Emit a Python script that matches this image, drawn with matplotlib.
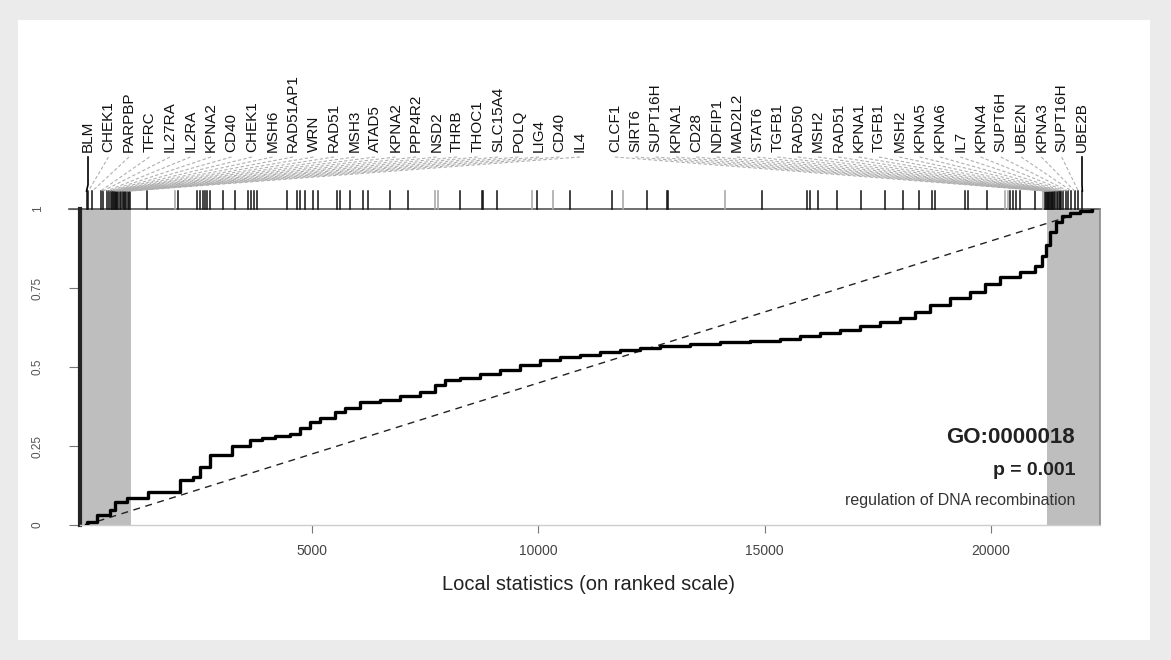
import matplotlib.pyplot as plt
import numpy as np
from matplotlib.patches import Rectangle
from matplotlib.lines import Line2D

plt.rcParams['font.family'] = ['Liberation Sans', 'DejaVu Sans']

# ---------------- data ----------------
n_genes = 22250
x_lo, x_hi = -125, 22410

# running fraction of set genes
curve_rank = [0, 29, 250, 537, 647, 912, 1266, 1377, 1907, 2084, 2371, 2525, 2747, 2968,
              3233, 3630, 3896, 4183, 4514, 4735, 4956, 5177, 5508, 5729, 6061, 6503,
              6944, 7386, 7718, 7939, 8270, 8712, 9154, 9596, 10038, 10480, 10921, 11363,
              11805, 12247, 12689, 13352, 14015, 14678, 15341, 15782, 16224, 16666,
              17108, 17550, 17992, 18324, 18655, 19097, 19539, 19870, 20202, 20644,
              20975, 21130, 21219, 21307, 21440, 21573, 21750, 21971, 22236]
curve_frac = [0, 0.009, 0.032, 0.047, 0.073, 0.085, 0.085, 0.104, 0.104, 0.142, 0.152,
              0.184, 0.222, 0.222, 0.250, 0.269, 0.275, 0.282, 0.288, 0.307, 0.326, 0.339,
              0.358, 0.370, 0.389, 0.396, 0.408, 0.421, 0.443, 0.459, 0.465, 0.478, 0.491,
              0.506, 0.522, 0.532, 0.538, 0.547, 0.554, 0.560, 0.566, 0.573, 0.579, 0.582,
              0.589, 0.598, 0.608, 0.617, 0.630, 0.642, 0.655, 0.674, 0.696, 0.718, 0.737,
              0.763, 0.785, 0.801, 0.820, 0.851, 0.886, 0.927, 0.959, 0.978, 0.987, 0.994,
              1.0]

# labelled genes at both ends (ranks) and their names
left_genes = ['BLM', 'CHEK1', 'PARPBP', 'TFRC', 'IL27RA', 'IL2RA', 'KPNA2', 'CD40',
              'CHEK1', 'MSH6', 'RAD51AP1', 'WRN', 'RAD51', 'MSH3', 'ATAD5', 'KPNA2',
              'PPP4R2', 'NSD2', 'THRB', 'THOC1', 'SLC15A4', 'POLQ', 'LIG4', 'CD40', 'IL4']
left_ranks = [20, 60, 150, 330, 380, 470, 520, 560, 590, 610, 630, 650, 660, 680,
              700, 720, 760, 790, 820, 850, 880, 900, 930, 955, 980]
right_genes = ['CLCF1', 'SIRT6', 'SUPT16H', 'KPNA1', 'CD28', 'NDFIP1', 'MAD2L2', 'STAT6',
               'TGFB1', 'RAD50', 'MSH2', 'RAD51', 'KPNA1', 'TGFB1', 'MSH2', 'KPNA5',
               'KPNA6', 'IL7', 'KPNA4', 'SUPT6H', 'UBE2N', 'KPNA3', 'SUPT16H', 'UBE2B']
right_ranks = [21200, 21220, 21240, 21260, 21270, 21290, 21300, 21320, 21340, 21360,
               21380, 21400, 21420, 21450, 21480, 21520, 21550, 21600, 21650, 21700,
               21780, 21850, 21930, 22020]

# other set genes on the rug
rug_dark = [1350, 2040, 2460, 2530, 2590, 2640, 2680, 2750, 3030, 3300, 3590, 3650,
            3720, 3790, 4450, 4670, 4740, 4850, 5020, 5130, 5550, 5620, 5840, 6130,
            6240, 6720, 7120, 8270, 8760, 8780, 9090, 9970, 10700, 11630, 12400,
            12840, 12860, 14940, 15930, 16000, 16180, 16600, 17130, 17660, 18060,
            18410, 18700, 18770, 19430, 19490, 19910, 20420, 20490, 20560, 20650,
            20980, 21530]
rug_light = [820, 1970, 7720, 7790, 9860, 10320, 11870, 14120, 20310, 20380, 21150]

go_id = 'GO:0000018'
p_text = 'p = 0.001'
go_term = 'regulation of DNA recombination'
x_ticks = [5000, 10000, 15000, 20000]
y_ticks = [0, 0.25, 0.5, 0.75, 1]
y_ticklabels = ['0', '0.25', '0.5', '0.75', '1']

# ---------------- figure ----------------
W, H = 1171, 660
fig = plt.figure(figsize=(W / 100, H / 100), dpi=100)
fig.patch.set_facecolor('#ebebeb')
fig.add_artist(Rectangle((18 / W, 1 - 640 / H), (1150 - 18) / W, (640 - 20) / H,
                         transform=fig.transFigure, facecolor='white', edgecolor='none', zorder=0))

ax = fig.add_axes([80 / W, 1 - 525 / H, 1020 / W, 316 / H])
ax.set_facecolor('white')
ax.set_xlim(x_lo, x_hi)
ax.set_ylim(0, 1)

# grey areas at both ends
ax.axvspan(x_lo, 1000, color='#bebebe', lw=0, zorder=1)
ax.axvspan(n_genes - 1000, x_hi, color='#bebebe', lw=0, zorder=1)

# diagonal and running curve
ax.plot([0, n_genes], [0, 1], color='#222222', lw=1, ls=(0, (5, 4)), zorder=2)
ax.plot(curve_rank, curve_frac, drawstyle='steps-post', color='black', lw=2.4, zorder=3)

# spines / ticks
ax.spines['top'].set_visible(False)
ax.spines['left'].set_color('#222222')
ax.spines['left'].set_linewidth(3)
ax.spines['right'].set_color('#888888')
ax.spines['right'].set_linewidth(1.2)
ax.spines['bottom'].set_color('#cccccc')
ax.spines['bottom'].set_linewidth(1)

ax.set_xticks(x_ticks)
ax.set_xticklabels([str(t) for t in x_ticks])
ax.set_yticks(y_ticks)
ax.set_yticklabels(y_ticklabels, rotation=90, va='center')
ax.tick_params(axis='x', length=6, color='#777777', labelsize=10, labelcolor='#444444', pad=8)
ax.tick_params(axis='y', length=8, color='#777777', labelsize=8.5, labelcolor='#555555', pad=18)

fig.text(588 / W, 1 - 585 / H, 'Local statistics (on ranked scale)', ha='center', va='center',
         fontsize=14.5, color='#222222')

# annotation text
ax.text(0.9755, 0.278, go_id, transform=ax.transAxes, ha='right', va='center',
        fontsize=16, fontweight='bold', color='#222222', zorder=5)
ax.text(0.9755, 0.174, p_text, transform=ax.transAxes, ha='right', va='center',
        fontsize=14, fontweight='bold', color='#222222', zorder=5)
ax.text(0.9755, 0.079, go_term, transform=ax.transAxes, ha='right', va='center',
        fontsize=11.5, color='#333333', zorder=5)

# ---------------- rug + labels above the plot ----------------
def to_ax(r):
    return (r - x_lo) / (x_hi - x_lo)

rug_top = (525 - 191) / 316
line_top = (525 - 157) / 316
label_y = (525 - 152) / 316

# baseline of rug
ax.add_line(Line2D([-0.011, 1.0], [1.0, 1.0], transform=ax.transAxes, color='#555555',
                   lw=1.2, clip_on=False))

for r in rug_light:
    ax.add_line(Line2D([to_ax(r)] * 2, [1.0, rug_top], transform=ax.transAxes,
                       color='#aaaaaa', lw=1.2, clip_on=False))
for r in rug_dark + left_ranks + right_ranks:
    ax.add_line(Line2D([to_ax(r)] * 2, [1.0, rug_top], transform=ax.transAxes,
                       color='#111111', lw=1.1, clip_on=False))

left_pos = (np.linspace(88, 580, len(left_genes)) - 80) / 1020
right_pos = (np.linspace(615, 1082, len(right_genes)) - 80) / 1020

labels = list(zip(left_genes, left_ranks, left_pos)) + list(zip(right_genes, right_ranks, right_pos))
for i, (name, r, lx) in enumerate(labels):
    solid = i == 0 or i == len(labels) - 1
    if solid:
        ax.add_line(Line2D([lx, lx, to_ax(r)], [line_top, rug_top + 0.02, rug_top],
                           transform=ax.transAxes, color='black', lw=1.2, clip_on=False))
    else:
        ax.add_line(Line2D([lx, to_ax(r)], [line_top, rug_top], transform=ax.transAxes,
                           color='#b0b0b0', lw=0.8, ls=(0, (3, 2)), clip_on=False))
    ax.text(lx, label_y, name, transform=ax.transAxes, rotation=90, ha='center', va='bottom',
            fontsize=11, color='#111111', clip_on=False)

fig.savefig('out.png', dpi=100, facecolor=fig.get_facecolor())
